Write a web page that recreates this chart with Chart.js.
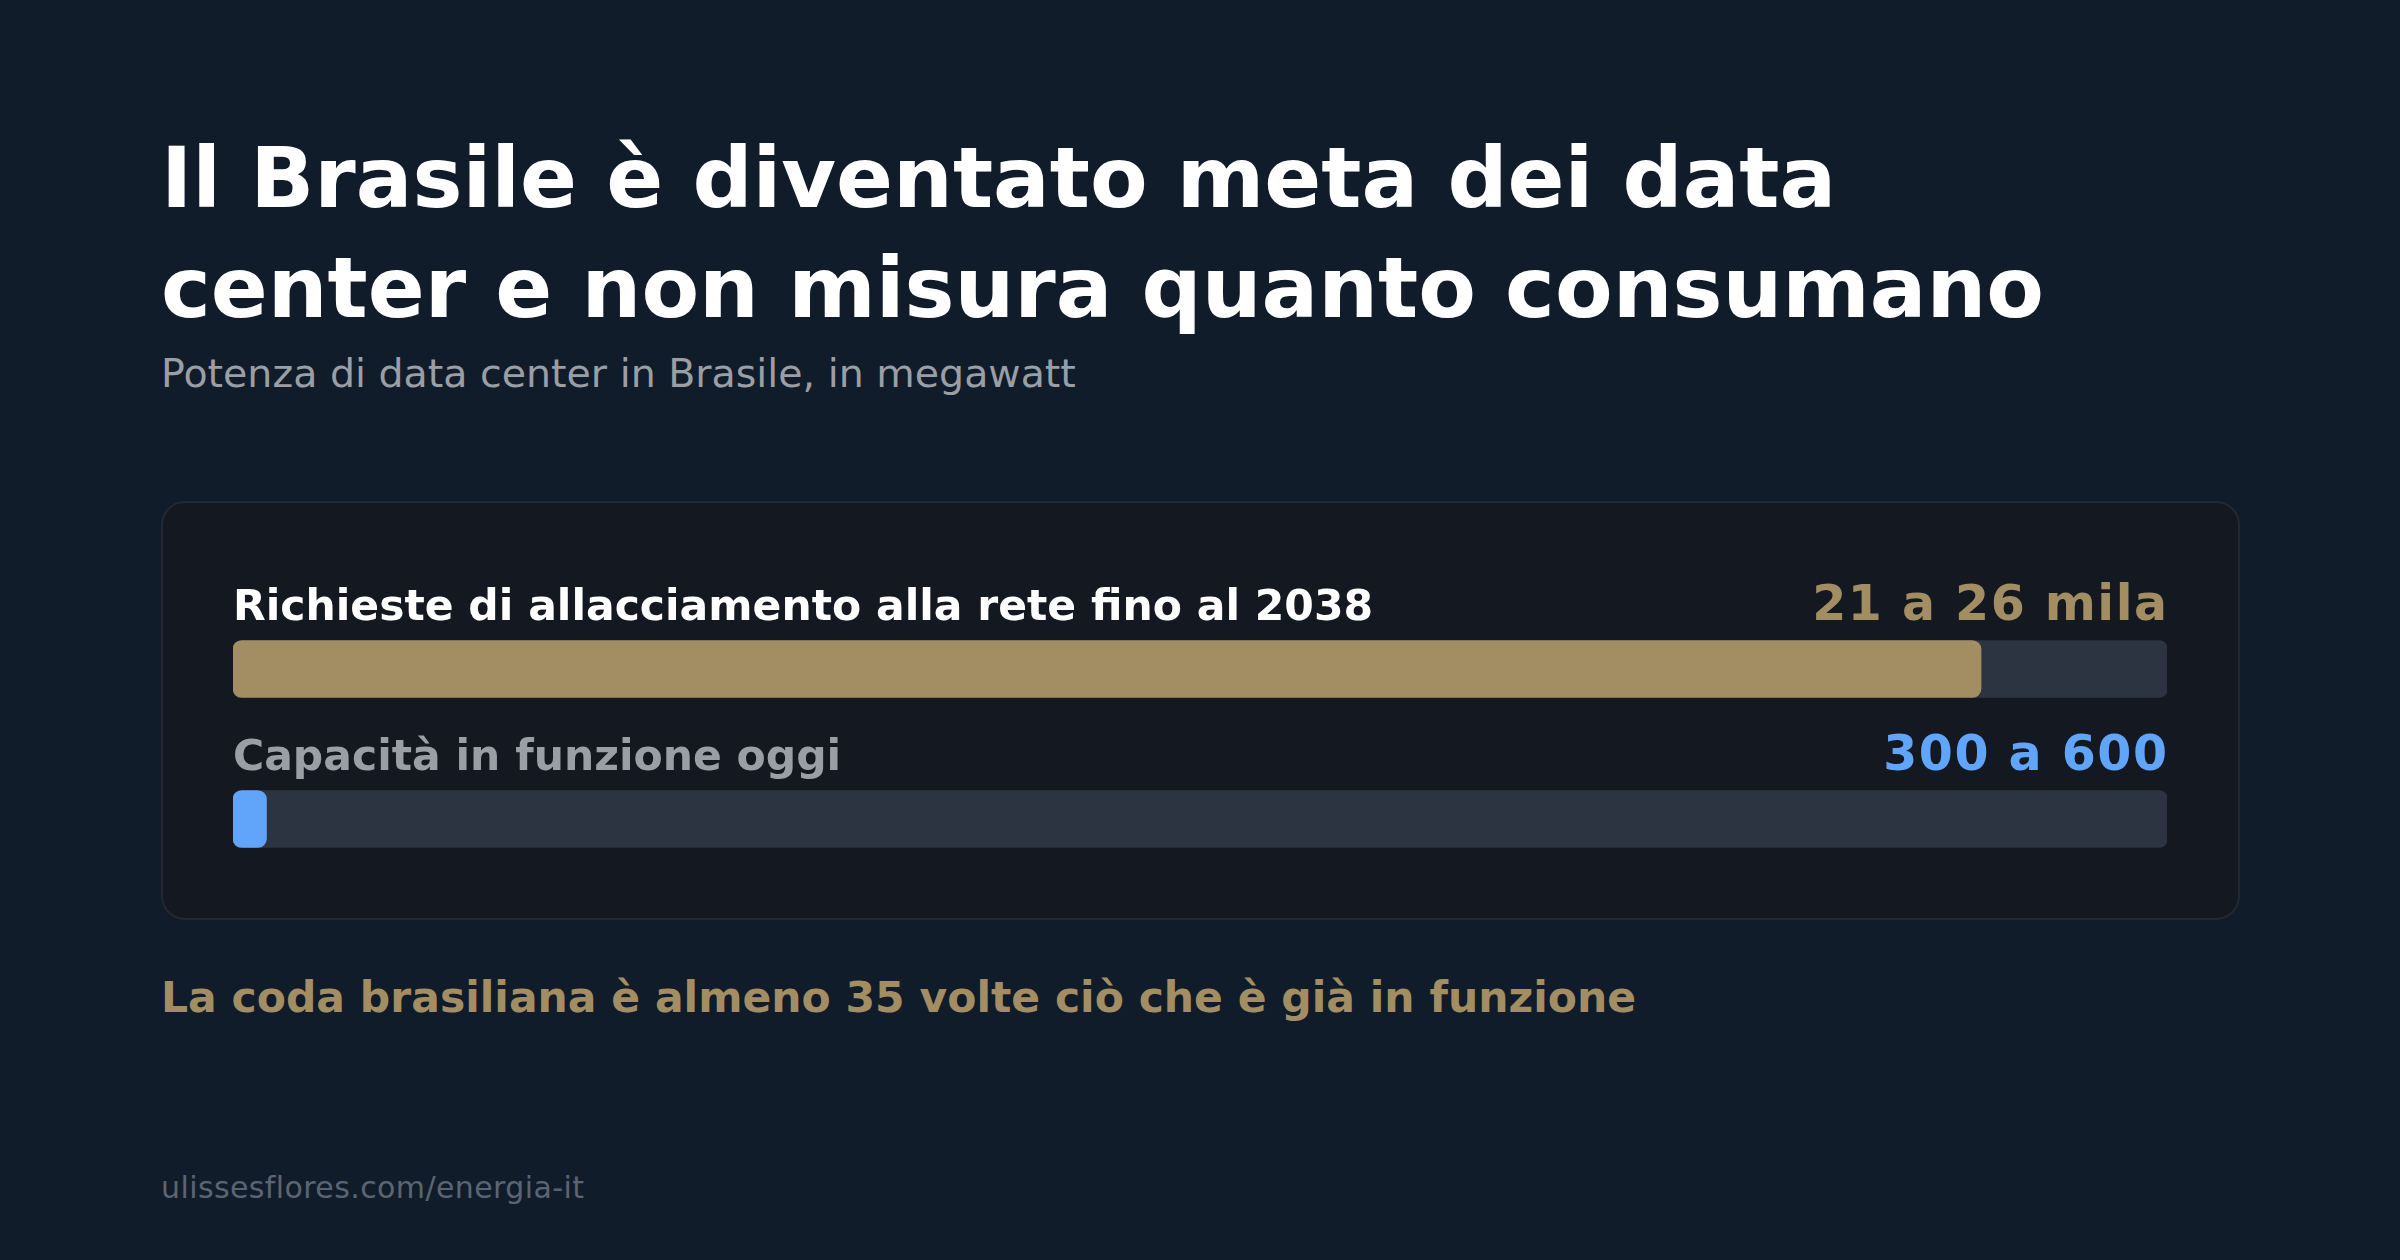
<!DOCTYPE html>
<html lang="it">
<head>
<meta charset="utf-8">
<script src="https://cdn.jsdelivr.net/npm/chart.js@4.4.1/dist/chart.umd.min.js"></script>
<style>
  html, body {
    margin: 0;
    padding: 0;
    width: 2400px;
    height: 1260px;
    background: #111c2a;
    overflow: hidden;
    font-family: "DejaVu Sans", "Liberation Sans", sans-serif;
  }
  .abs { position: absolute; white-space: nowrap; }
  #title {
    left: 161px; top: 123px;
    font-size: 84px; line-height: 110px; font-weight: 700;
    color: #ffffff;
  }
  #subtitle {
    left: 161px; top: 354px;
    font-size: 39.5px; line-height: 39.5px;
    color: #9a9ea5;
  }
  #card {
    left: 161px; top: 501px;
    width: 2075px; height: 415px;
    background: #141820;
    border: 2px solid #222933;
    border-radius: 24px;
  }
  #chart-wrap {
    left: 233px; top: 560px;
    width: 1934px; height: 334px;
  }
  #note {
    left: 161px; top: 977px;
    font-size: 42.5px; line-height: 42.5px; font-weight: 700;
    color: #a38d63;
  }
  #source {
    left: 161px; top: 1173px;
    font-size: 30px; line-height: 30px; letter-spacing: 0.4px;
    color: #5b6473;
  }
</style>
</head>
<body>
<div id="title" class="abs">Il Brasile è diventato meta dei data<br>center e non misura quanto consumano</div>
<div id="subtitle" class="abs">Potenza di data center in Brasile, in megawatt</div>
<div id="card" class="abs"></div>
<div id="chart-wrap" class="abs"><canvas id="bars" width="1934" height="334"></canvas></div>
<div id="note" class="abs">La coda brasiliana è almeno 35 volte ciò che è già in funzione</div>
<div id="source" class="abs">ulissesflores.com/energia-it</div>

<script>
// megawatt
const categories = ["Richieste di allacciamento alla rete fino al 2038", "Capacità in funzione oggi"];
const rangeLabels = ["21 a 26 mila", "300 a 600"];
const barValues = [23500, 450];     // midpoint of each range
const scaleMax = 26000;             // top of the largest range
const trackValues = [26000, 26000];

const fillColors = ["#a38d63", "#60a5fa"];
const labelColors = ["#ffffff", "#9a9ea5"];

const rowText = {
  id: "rowText",
  afterDatasetsDraw(chart) {
    const ctx = chart.ctx;
    const meta = chart.getDatasetMeta(1);
    const area = chart.chartArea;
    ctx.save();
    ctx.textBaseline = "alphabetic";
    meta.data.forEach((bar, i) => {
      const top = bar.y - bar.height / 2;
      const base = top - 21;

      ctx.letterSpacing = "0px";
      ctx.font = "700 42.5px 'DejaVu Sans', sans-serif";
      ctx.fillStyle = labelColors[i];
      ctx.textAlign = "left";
      ctx.fillText(categories[i], area.left, base);

      ctx.letterSpacing = "1.5px";
      ctx.font = "700 49px 'DejaVu Sans', sans-serif";
      ctx.fillStyle = fillColors[i];
      ctx.textAlign = "right";
      ctx.fillText(rangeLabels[i], area.right + 1.5, base);
    });
    ctx.restore();
  }
};

new Chart(document.getElementById("bars"), {
  type: "bar",
  data: {
    labels: categories,
    datasets: [
      {
        data: trackValues,
        backgroundColor: "#2c3442",
        borderRadius: 8,
        borderSkipped: false,
        barThickness: 57,
        grouped: false,
        order: 2
      },
      {
        data: barValues,
        backgroundColor: fillColors,
        borderRadius: 9,
        borderSkipped: false,
        barThickness: 57,
        grouped: false,
        order: 1
      }
    ]
  },
  options: {
    indexAxis: "y",
    responsive: false,
    animation: false,
    layout: { padding: { top: 34, left: 0, right: 0, bottom: 0 } },
    plugins: {
      legend: { display: false },
      tooltip: { enabled: false }
    },
    scales: {
      x: { display: false, min: 0, max: scaleMax },
      y: { display: false }
    }
  },
  plugins: [rowText]
});
</script>
</body>
</html>
